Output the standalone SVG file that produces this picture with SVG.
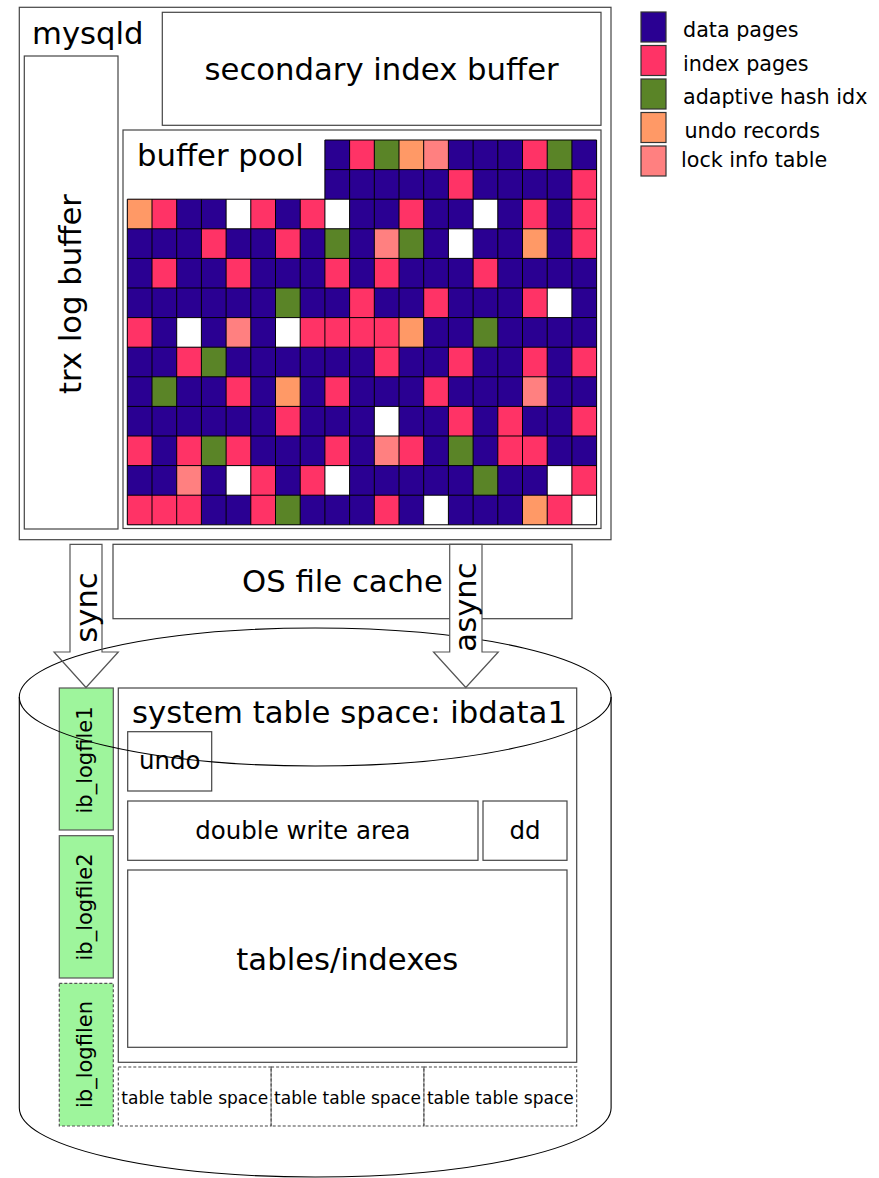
<svg xmlns="http://www.w3.org/2000/svg" width="879" height="1178" viewBox="0 0 879 1178">
  <style>
    .box { fill: #fff; stroke: #444; stroke-width: 1.2; }
    .log { fill: #9ef59c; stroke: #555; stroke-width: 1.2; }
    .dash { stroke-dasharray: 3 2; }
    .ts { fill: none; stroke: #444; stroke-width: 1.1; stroke-dasharray: 3 2; }
    .disk { fill: none; stroke: #000; stroke-width: 1.1; }
    .arrow { stroke: #555; stroke-width: 1.2; }
    text { font-family: "DejaVu Sans", "Liberation Sans", sans-serif; fill: #000; }
    .t30 { font-size: 30.7px; }
    .t24 { font-size: 24.5px; }
    .t20 { font-size: 21px; }
    .t17 { font-size: 17px; }
    .leg { font-size: 20.7px; }
    .mid { text-anchor: middle; }
    .d { fill: #2a0092; }
    .i { fill: #ff3366; }
    .g { fill: #5a8427; }
    .o { fill: #ff9966; }
    .l { fill: #ff8080; }
    .w { fill: #ffffff; }
    .sw { stroke: #333; stroke-width: 1.2; }
  </style>

  <!-- server process -->
  <g id="mysqld">
    <rect class="box" x="19.3" y="7.3" width="591.7" height="532.4"/>
    <text class="t30" x="32" y="43.5">mysqld</text>
  </g>

  <g id="secondary-index-buffer">
    <rect class="box" x="162.3" y="12.3" width="438.7" height="113"/>
    <text class="t30 mid" x="381.6" y="79.5">secondary index buffer</text>
  </g>

  <g id="trx-log-buffer">
    <rect class="box" x="24.3" y="56" width="93.7" height="473"/>
    <text class="t30 mid" transform="translate(81 294) rotate(-90)">trx log buffer</text>
  </g>

  <g id="buffer-pool">
    <rect class="box" x="123" y="130" width="478" height="398.5"/>
    <text class="t30" x="137" y="165.5">buffer pool</text>
    <!-- page grid: one unit = one page -->
    <g transform="translate(127.3 140) scale(24.7 29.6)">
      <path class="d" d="M8 0H19V13H0V2H8Z"/>
      <rect class="i" x="9" y="0" width="1" height="1"/>
      <rect class="g" x="10" y="0" width="1" height="1"/>
      <rect class="o" x="11" y="0" width="1" height="1"/>
      <rect class="l" x="12" y="0" width="1" height="1"/>
      <rect class="i" x="16" y="0" width="1" height="1"/>
      <rect class="g" x="17" y="0" width="1" height="1"/>

      <rect class="i" x="13" y="1" width="1" height="1"/>
      <rect class="i" x="18" y="1" width="1" height="1"/>

      <rect class="o" x="0" y="2" width="1" height="1"/>
      <rect class="i" x="1" y="2" width="1" height="1"/>
      <rect class="w" x="4" y="2" width="1" height="1"/>
      <rect class="i" x="5" y="2" width="1" height="1"/>
      <rect class="i" x="7" y="2" width="1" height="1"/>
      <rect class="w" x="8" y="2" width="1" height="1"/>
      <rect class="i" x="11" y="2" width="1" height="1"/>
      <rect class="w" x="14" y="2" width="1" height="1"/>
      <rect class="i" x="16" y="2" width="1" height="1"/>
      <rect class="i" x="18" y="2" width="1" height="1"/>

      <rect class="i" x="3" y="3" width="1" height="1"/>
      <rect class="i" x="6" y="3" width="1" height="1"/>
      <rect class="g" x="8" y="3" width="1" height="1"/>
      <rect class="l" x="10" y="3" width="1" height="1"/>
      <rect class="g" x="11" y="3" width="1" height="1"/>
      <rect class="w" x="13" y="3" width="1" height="1"/>
      <rect class="o" x="16" y="3" width="1" height="1"/>
      <rect class="i" x="18" y="3" width="1" height="1"/>

      <rect class="i" x="1" y="4" width="1" height="1"/>
      <rect class="i" x="4" y="4" width="1" height="1"/>
      <rect class="i" x="8" y="4" width="1" height="1"/>
      <rect class="i" x="10" y="4" width="1" height="1"/>
      <rect class="i" x="14" y="4" width="1" height="1"/>

      <rect class="g" x="6" y="5" width="1" height="1"/>
      <rect class="i" x="9" y="5" width="1" height="1"/>
      <rect class="i" x="12" y="5" width="1" height="1"/>
      <rect class="i" x="16" y="5" width="1" height="1"/>
      <rect class="w" x="17" y="5" width="1" height="1"/>

      <rect class="i" x="0" y="6" width="1" height="1"/>
      <rect class="w" x="2" y="6" width="1" height="1"/>
      <rect class="l" x="4" y="6" width="1" height="1"/>
      <rect class="w" x="6" y="6" width="1" height="1"/>
      <rect class="i" x="7" y="6" width="4" height="1"/>
      <rect class="o" x="11" y="6" width="1" height="1"/>
      <rect class="g" x="14" y="6" width="1" height="1"/>

      <rect class="i" x="2" y="7" width="1" height="1"/>
      <rect class="g" x="3" y="7" width="1" height="1"/>
      <rect class="i" x="10" y="7" width="1" height="1"/>
      <rect class="i" x="13" y="7" width="1" height="1"/>
      <rect class="i" x="16" y="7" width="1" height="1"/>
      <rect class="i" x="18" y="7" width="1" height="1"/>

      <rect class="g" x="1" y="8" width="1" height="1"/>
      <rect class="i" x="4" y="8" width="1" height="1"/>
      <rect class="o" x="6" y="8" width="1" height="1"/>
      <rect class="i" x="8" y="8" width="1" height="1"/>
      <rect class="i" x="12" y="8" width="1" height="1"/>
      <rect class="l" x="16" y="8" width="1" height="1"/>

      <rect class="i" x="6" y="9" width="1" height="1"/>
      <rect class="w" x="10" y="9" width="1" height="1"/>
      <rect class="i" x="13" y="9" width="1" height="1"/>
      <rect class="i" x="15" y="9" width="1" height="1"/>
      <rect class="i" x="18" y="9" width="1" height="1"/>

      <rect class="i" x="0" y="10" width="1" height="1"/>
      <rect class="i" x="2" y="10" width="1" height="1"/>
      <rect class="g" x="3" y="10" width="1" height="1"/>
      <rect class="i" x="4" y="10" width="1" height="1"/>
      <rect class="i" x="8" y="10" width="1" height="1"/>
      <rect class="l" x="10" y="10" width="1" height="1"/>
      <rect class="i" x="11" y="10" width="1" height="1"/>
      <rect class="g" x="13" y="10" width="1" height="1"/>
      <rect class="i" x="15" y="10" width="2" height="1"/>

      <rect class="l" x="2" y="11" width="1" height="1"/>
      <rect class="w" x="4" y="11" width="1" height="1"/>
      <rect class="i" x="5" y="11" width="1" height="1"/>
      <rect class="i" x="7" y="11" width="1" height="1"/>
      <rect class="w" x="8" y="11" width="1" height="1"/>
      <rect class="g" x="14" y="11" width="1" height="1"/>
      <rect class="w" x="17" y="11" width="1" height="1"/>
      <rect class="i" x="18" y="11" width="1" height="1"/>

      <rect class="i" x="0" y="12" width="3" height="1"/>
      <rect class="i" x="5" y="12" width="1" height="1"/>
      <rect class="g" x="6" y="12" width="1" height="1"/>
      <rect class="i" x="10" y="12" width="1" height="1"/>
      <rect class="w" x="12" y="12" width="1" height="1"/>
      <rect class="o" x="16" y="12" width="1" height="1"/>
      <rect class="i" x="17" y="12" width="1" height="1"/>
      <rect class="w" x="18" y="12" width="1" height="1"/>

      <path fill="none" stroke="#000" stroke-width="1" vector-effect="non-scaling-stroke"
        d="M0 2V13M1 2V13M2 2V13M3 2V13M4 2V13M5 2V13M6 2V13M7 2V13
           M8 0V13M9 0V13M10 0V13M11 0V13M12 0V13M13 0V13M14 0V13M15 0V13M16 0V13M17 0V13M18 0V13M19 0V13
           M8 0H19M8 1H19M0 2H19M0 3H19M0 4H19M0 5H19M0 6H19M0 7H19M0 8H19M0 9H19M0 10H19M0 11H19M0 12H19M0 13H19"/>
    </g>
  </g>

  <!-- legend -->
  <g id="legend">
    <rect class="d sw" x="641" y="12" width="25" height="30"/>
    <rect class="i sw" x="641" y="45.5" width="25" height="30"/>
    <rect class="g sw" x="641" y="79" width="25" height="30"/>
    <rect class="o sw" x="641" y="112.5" width="25" height="30"/>
    <rect class="l sw" x="641" y="146" width="25" height="30"/>
    <text class="leg" x="683" y="37.3">data pages</text>
    <text class="leg" x="683" y="70.5">index pages</text>
    <text class="leg" x="683" y="104.3">adaptive hash idx</text>
    <text class="leg" x="684.5" y="138.3">undo records</text>
    <text class="leg" x="681" y="167.3">lock info table</text>
  </g>

  <g id="os-file-cache">
    <rect class="box" x="113" y="544.3" width="459" height="74.4"/>
    <text class="t30 mid" x="342.5" y="591.7">OS file cache</text>
  </g>

  <!-- redo log files -->
  <g id="ib_logfile1">
    <rect class="log" x="59.3" y="688" width="54" height="142"/>
    <text class="t20 mid" transform="translate(92 760) rotate(-90)">ib_logfile1</text>
  </g>
  <g id="ib_logfile2">
    <rect class="log" x="59.3" y="835.7" width="54" height="142.3"/>
    <text class="t20 mid" transform="translate(92 907) rotate(-90)">ib_logfile2</text>
  </g>
  <g id="ib_logfilen">
    <rect class="log dash" x="59.3" y="983.3" width="54" height="142.7"/>
    <text class="t20 mid" transform="translate(92 1054.5) rotate(-90)">ib_logfilen</text>
  </g>

  <!-- system tablespace -->
  <g id="system-table-space">
    <rect class="box" x="118.3" y="688" width="458.4" height="374.3"/>
    <text class="t30" x="132" y="722.7">system table space: ibdata1</text>
  </g>
  <g id="undo">
    <rect class="box" x="127.7" y="731.7" width="84" height="59.3"/>
    <text class="t24 mid" x="169.7" y="769.3">undo</text>
  </g>
  <g id="double-write-area">
    <rect class="box" x="127.7" y="801" width="350.3" height="59.3"/>
    <text class="t24 mid" x="302.9" y="838.5">double write area</text>
  </g>
  <g id="dd">
    <rect class="box" x="483" y="801" width="84" height="59.3"/>
    <text class="t24 mid" x="525" y="838.5">dd</text>
  </g>
  <g id="tables-indexes">
    <rect class="box" x="127.7" y="870" width="439.3" height="177.3"/>
    <text class="t30 mid" x="347.3" y="970">tables/indexes</text>
  </g>

  <!-- file-per-table tablespaces -->
  <g id="table-space-1">
    <rect class="ts" x="118.3" y="1067" width="152.8" height="59"/>
    <text class="t17 mid" x="194.7" y="1104">table table space</text>
  </g>
  <g id="table-space-2">
    <rect class="ts" x="271.1" y="1067" width="152.8" height="59"/>
    <text class="t17 mid" x="347.5" y="1104">table table space</text>
  </g>
  <g id="table-space-3">
    <rect class="ts" x="423.9" y="1067" width="152.8" height="59"/>
    <text class="t17 mid" x="500.3" y="1104">table table space</text>
  </g>

  <!-- disk cylinder -->
  <g id="disk">
    <ellipse class="disk" cx="315.2" cy="697" rx="295.9" ry="69"/>
    <path class="disk" d="M19.3 697V1108A295.9 69 0 0 0 611.1 1108V697"/>
  </g>

  <!-- write paths -->
  <g id="connectors">
    <g id="sync">
      <path class="arrow" fill="none" d="M70 544.3H102V652H118.3L86 687.5L54 652H70Z"/>
      <text class="t30 mid" transform="translate(96.5 607.5) rotate(-90)">sync</text>
    </g>
    <g id="async">
      <path class="arrow" fill="#fff" d="M449.7 544.3H482V652H498.3L465.8 687.5L433.5 652H449.7Z"/>
      <text class="t30 mid" transform="translate(476 607) rotate(-90)">async</text>
    </g>
  </g>
</svg>
